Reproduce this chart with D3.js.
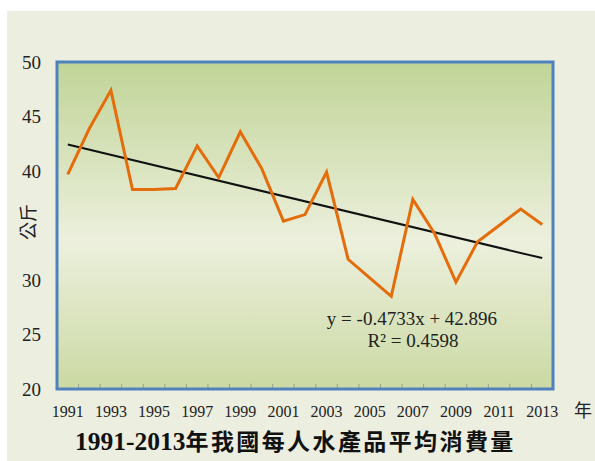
<!DOCTYPE html>
<html>
<head>
<meta charset="utf-8">
<script src="https://cdn.jsdelivr.net/npm/d3@7/dist/d3.min.js"></script>
<style>
html,body{margin:0;padding:0;background:#ffffff;}
svg{display:block;}
</style>
</head>
<body>
<script>
// ---- data ----
const years = d3.range(1991, 2014);
const values = [39.7, 43.9, 47.4, 38.3, 38.3, 38.4, 42.3, 39.4, 43.6, 40.2, 35.4, 36.0,
                39.9, 31.9, 30.2, 28.5, 37.4, 34.3, 29.8, 33.5, 35.0, 36.5, 35.1];
const yTicks = [20, 25, 30, 35, 40, 45, 50];
const xTickLabels = years.filter((y, i) => i % 2 === 0);
const trendSlope = -0.4733;
const trendIntercept = 42.896;
const equationText = "y = -0.4733x + 42.896";
const r2Text = "R² = 0.4598";
const titleNum = "1991-2013";
const titleZh = "年我國每人水產品平均消費量";
const yLabel = "公斤";
const xLabel = "年";

// ---- layout ----
const W = 595, H = 461;
const plot = {x0: 57, x1: 553, y0: 62, y1: 389};
const bgColor = "#eceee0";

const svg = d3.select("body").append("svg").attr("width", W).attr("height", H);

svg.append("rect").attr("x", 7).attr("y", 11).attr("width", W - 7).attr("height", H - 11)
  .attr("fill", bgColor);

const defs = svg.append("defs");
const grad = defs.append("linearGradient").attr("id", "bg").attr("x1", 0).attr("y1", 0).attr("x2", 0).attr("y2", 1);
grad.append("stop").attr("offset", "0%").attr("stop-color", "#c1d497");
grad.append("stop").attr("offset", "55%").attr("stop-color", "#ecf0dd");
grad.append("stop").attr("offset", "100%").attr("stop-color", "#cbd9a3");

const x = d3.scaleBand().domain(years).range([plot.x0, plot.x1]);
const y = d3.scaleLinear().domain([20, 50]).range([plot.y1, plot.y0]);

svg.append("rect").attr("x", plot.x0).attr("y", plot.y0)
  .attr("width", plot.x1 - plot.x0).attr("height", plot.y1 - plot.y0)
  .attr("fill", "url(#bg)");

// category boundary ticks
const boundaries = years.slice(1);
svg.append("g").selectAll("line").data(boundaries).join("line")
  .attr("x1", d => x(d)).attr("x2", d => x(d))
  .attr("y1", plot.y1).attr("y2", plot.y1 - 5)
  .attr("stroke", "#9aa08a").attr("stroke-width", 1);

// trend line
const cx = d => x(d) + x.bandwidth() / 2;
const trendPts = [1, years.length].map(i => [cx(years[i - 1]), y(trendSlope * i + trendIntercept)]);
svg.append("line")
  .attr("x1", trendPts[0][0]).attr("y1", trendPts[0][1])
  .attr("x2", trendPts[1][0]).attr("y2", trendPts[1][1])
  .attr("stroke", "#111").attr("stroke-width", 2);

// data line
const line = d3.line().x((d, i) => cx(years[i])).y(d => y(d));
svg.append("path").datum(values).attr("d", line)
  .attr("fill", "none").attr("stroke", "#e46c0a").attr("stroke-width", 3)
  .attr("stroke-linejoin", "miter");

// border
svg.append("rect").attr("x", plot.x0).attr("y", plot.y0)
  .attr("width", plot.x1 - plot.x0).attr("height", plot.y1 - plot.y0)
  .attr("fill", "none").attr("stroke", "#4f81bd").attr("stroke-width", 3);

const serif = "'Liberation Serif','Times New Roman',serif";
const cjk = "'Noto Sans CJK TC','Noto Sans CJK SC',sans-serif";

// y tick labels
svg.append("g").selectAll("text").data(yTicks).join("text")
  .attr("x", 41).attr("y", d => y(d)).attr("dy", "0.35em")
  .attr("text-anchor", "end").attr("font-family", serif).attr("font-size", 19)
  .attr("fill", "#222").text(d => d);

// x tick labels
svg.append("g").selectAll("text").data(xTickLabels).join("text")
  .attr("x", d => cx(d)).attr("y", 416.5)
  .attr("text-anchor", "middle").attr("font-family", serif).attr("font-size", 16)
  .attr("fill", "#222").text(d => d);

// y axis title (with a background box that covers the label underneath, as in the source)
svg.append("rect").attr("x", 12).attr("y", 198).attr("width", 34).attr("height", 46).attr("fill", bgColor);
svg.append("text").attr("transform", "translate(35,222) rotate(-90)")
  .attr("text-anchor", "middle").attr("font-family", cjk).attr("font-size", 18)
  .attr("fill", "#222").text(yLabel);
svg.append("text").attr("x", 574).attr("y", 417).attr("font-family", cjk)
  .attr("font-size", 18).attr("fill", "#222").text(xLabel);

// equation
svg.append("text").attr("x", 412).attr("y", 325).attr("text-anchor", "middle")
  .attr("font-family", serif).attr("font-size", 19).attr("fill", "#222").text(equationText);
svg.append("text").attr("x", 413).attr("y", 347).attr("text-anchor", "middle")
  .attr("font-family", serif).attr("font-size", 19).attr("fill", "#222").text(r2Text);

// title
const t = svg.append("text").attr("x", 75).attr("y", 450).attr("fill", "#111");
t.append("tspan").attr("font-family", serif).attr("font-weight", "bold").attr("font-size", 25.5).text(titleNum);
t.append("tspan").attr("font-family", cjk).attr("font-weight", "bold").attr("font-size", 23)
  .attr("letter-spacing", 2.4).text(titleZh);
</script>
</body>
</html>
